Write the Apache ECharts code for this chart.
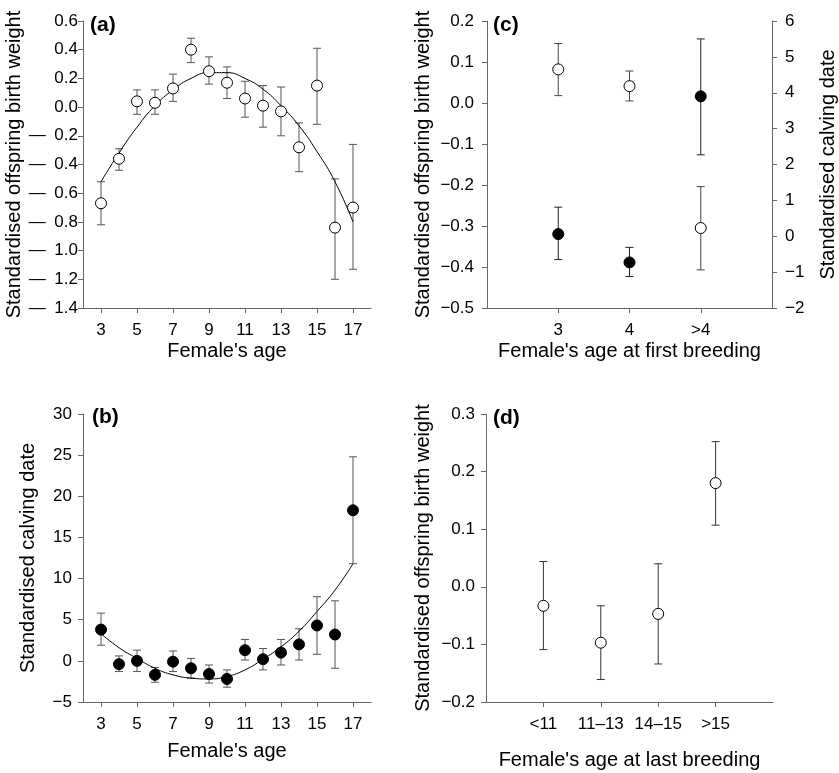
<!DOCTYPE html>
<html>
<head>
<meta charset="utf-8">
<script src="https://cdn.jsdelivr.net/npm/echarts@6/dist/echarts.min.js"></script>
<style>
  html, body { margin: 0; padding: 0; background: #fff; }
  #main { width: 839px; height: 773px; }
</style>
</head>
<body>
<div id="main"></div>
<script>
  // ---- data ----
  // (a) offspring birth weight vs female's age
  const ages = [3, 4, 5, 6, 7, 8, 9, 10, 11, 12, 13, 14, 15, 16, 17]
  const weightMean = [-0.67, -0.36, 0.04, 0.03, 0.13, 0.40, 0.25, 0.17, 0.06, 0.01, -0.03, -0.28, 0.15, -0.84, -0.70]
  const weightLow = [-0.82, -0.44, -0.05, -0.05, 0.04, 0.31, 0.16, 0.06, -0.07, -0.14, -0.20, -0.45, -0.12, -1.20, -1.13]
  const weightHigh = [-0.52, -0.29, 0.12, 0.12, 0.23, 0.48, 0.35, 0.28, 0.18, 0.15, 0.14, -0.11, 0.41, -0.50, -0.26]
  const weightFit = [-0.52, -0.32, -0.14, 0.01, 0.12, 0.20, 0.24, 0.24, 0.20, 0.125, 0.01, -0.13, -0.31, -0.52, -0.80]

  // (b) calving date vs female's age
  const calvMean = [3.8, -0.4, 0.0, -1.7, -0.1, -0.9, -1.6, -2.2, 1.3, 0.2, 1.0, 2.0, 4.3, 3.2, 18.3]
  const calvLow = [1.9, -1.3, -1.3, -2.6, -1.3, -2.1, -2.7, -3.2, 0.1, -1.1, -0.5, 0.1, 0.8, -0.9, 11.8]
  const calvHigh = [5.8, 0.6, 1.3, -0.8, 1.2, 0.3, -0.5, -1.1, 2.6, 1.5, 2.6, 3.9, 7.8, 7.3, 24.8]
  const calvFit = [3.3, 1.6, 0.3, -0.9, -1.7, -2.1, -2.2, -1.9, -1.1, 0.2, 1.7, 3.6, 6.0, 8.6, 11.8]

  const ageTicks = [3, 5, 7, 9, 11, 13, 15, 17]

  // (c) age at first breeding
  const firstCats = ['3', '4', '>4']
  const firstWeightMean = [0.082, 0.041, -0.305]
  const firstWeightLow = [0.018, 0.005, -0.407]
  const firstWeightHigh = [0.145, 0.078, -0.204]
  const firstCalvMean = [0.06, -0.73, 3.9]
  const firstCalvLow = [-0.65, -1.12, 2.27]
  const firstCalvHigh = [0.81, -0.31, 5.5]

  // (d) age at last breeding
  const lastCats = ['<11', '11\u201313', '14\u201315', '>15']
  const lastWeightMean = [-0.033, -0.097, -0.047, 0.18]
  const lastWeightLow = [-0.109, -0.161, -0.134, 0.107]
  const lastWeightHigh = [0.044, -0.033, 0.04, 0.252]

  // ---- helpers ----
  const FONT = '"Liberation Sans", Arial, sans-serif'
  const axisGray = '#666'
  const TICK_FS = 17
  const NAME_FS = 20

  const pairs = (xs, ys) => xs.map((x, i) => [x, ys[i]])
  const triples = (xs, lo, hi) => xs.map((x, i) => [x, lo[i], hi[i]])

  // panel (a) uses a long, spaced minus sign; the others a normal one
  function fmt(dec, minus) {
    return v => (v < -1e-9 ? minus : '') + Math.abs(v).toFixed(dec)
  }

  // error bars with caps, drawn through the axes' own coord()
  function errorBars(xi, yi, data, color) {
    return {
      type: 'custom', xAxisIndex: xi, yAxisIndex: yi, z: 1, silent: true,
      encode: { x: 0, y: [1, 2] },
      data: data,
      renderItem(params, api) {
        const x = api.value(0)
        const lo = api.coord([x, api.value(1)])
        const hi = api.coord([x, api.value(2)])
        const w = 4
        const style = { stroke: color, lineWidth: 1, fill: null }
        return {
          type: 'group',
          children: [
            { type: 'line', shape: { x1: lo[0], y1: lo[1], x2: hi[0], y2: hi[1] }, style },
            { type: 'line', shape: { x1: lo[0] - w, y1: lo[1], x2: lo[0] + w, y2: lo[1] }, style },
            { type: 'line', shape: { x1: hi[0] - w, y1: hi[1], x2: hi[0] + w, y2: hi[1] }, style }
          ]
        }
      }
    }
  }

  function dots(xi, yi, data, filled) {
    return {
      type: 'scatter', xAxisIndex: xi, yAxisIndex: yi, z: 3, silent: true,
      symbol: 'circle', symbolSize: 11,
      itemStyle: {
        color: filled ? '#000' : '#fff',
        borderColor: '#000', borderWidth: 1, opacity: 1
      },
      data: data
    }
  }

  function fitLine(xi, yi, data) {
    return {
      type: 'line', xAxisIndex: xi, yAxisIndex: yi, z: 2, silent: true,
      smooth: true, symbol: 'none',
      lineStyle: { color: '#000', width: 1 },
      data: data
    }
  }

  function yAxis(grid, min, max, interval, dec, minus, name, gap, margin, position) {
    return {
      type: 'value', gridIndex: grid, position: position || 'left',
      min, max, interval,
      name, nameLocation: 'middle', nameGap: gap, nameRotate: 90,
      nameTextStyle: { fontFamily: FONT, fontSize: NAME_FS, color: '#000' },
      axisLine: { show: true, lineStyle: { color: axisGray } },
      axisTick: { show: true, inside: false, length: 5, lineStyle: { color: axisGray } },
      axisLabel: { formatter: fmt(dec, minus), margin, fontFamily: FONT, fontSize: TICK_FS, color: '#000' },
      splitLine: { show: false }
    }
  }

  function ageAxis(grid, gap) {
    return {
      type: 'value', gridIndex: grid, min: 2, max: 18,
      name: "Female's age", nameLocation: 'middle', nameGap: gap,
      nameTextStyle: { fontFamily: FONT, fontSize: NAME_FS, color: '#000' },
      axisLine: { show: true, onZero: false, lineStyle: { color: axisGray } },
      axisTick: { show: true, length: 5, customValues: ageTicks, lineStyle: { color: axisGray } },
      axisLabel: { customValues: ageTicks, margin: 14, fontFamily: FONT, fontSize: TICK_FS, color: '#000' },
      splitLine: { show: false }
    }
  }

  function catAxis(grid, cats, name, gap) {
    const padded = [''].concat(cats, [' '])
    return {
      type: 'category', gridIndex: grid, data: padded, boundaryGap: false,
      name, nameLocation: 'middle', nameGap: gap,
      nameTextStyle: { fontFamily: FONT, fontSize: NAME_FS, color: '#000' },
      axisLine: { show: true, onZero: false, lineStyle: { color: axisGray } },
      axisTick: { show: true, length: 5, interval: i => i > 0 && i < padded.length - 1, lineStyle: { color: axisGray } },
      axisLabel: { interval: 0, margin: 14, fontFamily: FONT, fontSize: TICK_FS, color: '#000' },
      splitLine: { show: false }
    }
  }

  const panelLabels = ['(a)', '(b)', '(c)', '(d)']
  const panelPos = [[90, 15], [92, 407], [493, 15], [493, 408]]

  const wideMinus = '\u2014\u2002'
  const minus = '\u2212'

  const option = {
    animation: false,
    backgroundColor: '#fff',
    textStyle: { fontFamily: FONT },
    grid: [
      { left: 83, top: 21, width: 288, height: 287 },
      { left: 83, top: 414, width: 288, height: 288 },
      { left: 487, top: 21, width: 286, height: 287 },
      { left: 486, top: 414, width: 287, height: 288 }
    ],
    xAxis: [
      ageAxis(0, 33),
      ageAxis(1, 39),
      catAxis(2, firstCats, "Female's age at first breeding", 33),
      catAxis(3, lastCats, "Female's age at last breeding", 48)
    ],
    yAxis: [
      yAxis(0, -1.4, 0.6, 0.2, 1, wideMinus, 'Standardised offspring birth weight', 58, 5),
      yAxis(1, -5, 30, 5, 0, minus, 'Standardised calving date', 45, 11),
      yAxis(2, -0.5, 0.2, 0.1, 1, minus, 'Standardised offspring birth weight', 54, 13),
      yAxis(2, -2, 6, 1, 0, minus, 'Standardised calving date', 46, 13, 'right'),
      yAxis(3, -0.2, 0.3, 0.1, 1, minus, 'Standardised offspring birth weight', 53, 11)
    ],
    graphic: panelLabels.map((t, i) => ({
      type: 'text', left: panelPos[i][0], top: panelPos[i][1], silent: true,
      style: { text: t, font: 'bold 21px ' + FONT, fill: '#000' }
    })),
    series: [
      // (a)
      errorBars(0, 0, triples(ages, weightLow, weightHigh), '#555'),
      fitLine(0, 0, pairs(ages, weightFit)),
      dots(0, 0, pairs(ages, weightMean), false),
      // (b)
      errorBars(1, 1, triples(ages, calvLow, calvHigh), '#555'),
      fitLine(1, 1, pairs(ages, calvFit)),
      dots(1, 1, pairs(ages, calvMean), true),
      // (c)
      errorBars(2, 2, triples(firstCats, firstWeightLow, firstWeightHigh), '#444'),
      dots(2, 2, pairs(firstCats, firstWeightMean), false),
      errorBars(2, 3, triples(firstCats, firstCalvLow, firstCalvHigh), '#222'),
      dots(2, 3, pairs(firstCats, firstCalvMean), true),
      // (d)
      errorBars(3, 4, triples(lastCats, lastWeightLow, lastWeightHigh), '#333'),
      dots(3, 4, pairs(lastCats, lastWeightMean), false)
    ]
  }

  const chart = echarts.init(document.getElementById('main'), null, { renderer: 'canvas' })
  chart.setOption(option)
</script>
</body>
</html>
